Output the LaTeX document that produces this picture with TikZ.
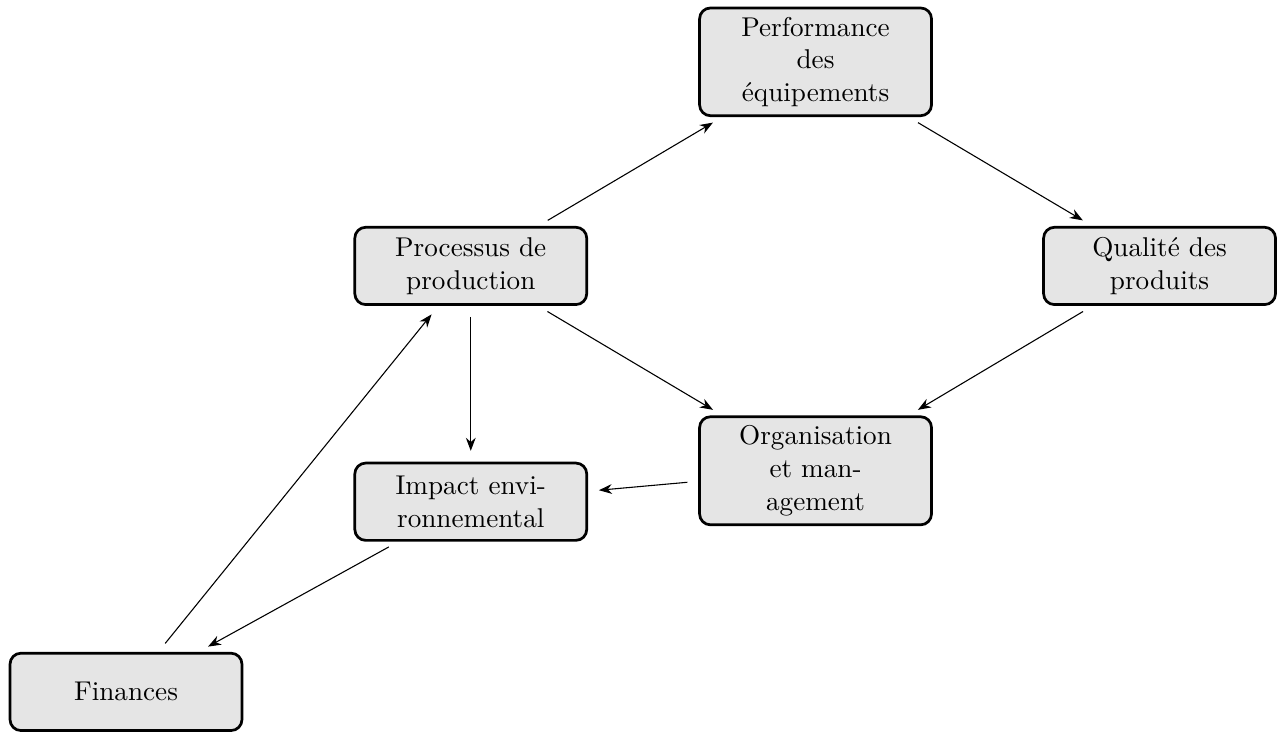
\documentclass[tikz,border=0pt]{standalone}
\usepackage{fontspec}
\usepackage{tikz}
\usetikzlibrary{positioning, arrows.meta}
\tikzset{
    bloc/.style={ % Sets the properties for each box
        draw,
        rounded corners,
        line width=1pt,
        fill=gray!20,
        text width=2cm, % Narrow text, hyphenated
        align=center,
        minimum width=3cm,
        minimum height=1cm
    },
    every edge/.style={ % Sets the properties for each link
        draw,
        ->,>=Stealth,
        shorten >=4pt,
        shorten <=4pt
    }
}
\begin{document}
\begin{tikzpicture}
            \useasboundingbox (-6.09,-6.02) rectangle (10.52,3.44);
            \node[bloc] (proc) at (0,0) {Processus de production};
            \node[bloc] (perf) at (4.46,2.64) {Performance des équipements};
            \node[bloc] (qual) at (8.91,0) {Qualité des produits};
            \node[bloc] (orga) at (4.46,-2.65) {Organisation et management};
            \node[bloc] (impact) at (0,-3.05) {Impact environnemental};
            \node[bloc] (fin) at (-4.46,-5.51) {Finances};
            \draw   (proc) edge (perf)
                    (perf) edge (qual)
                    (proc) edge (orga)
                    (qual) edge (orga)
                    (proc) edge (impact)
                    (orga) edge (impact)
                    (impact) edge (fin)
                    (fin) edge (proc);
        \end{tikzpicture}
\end{document}
